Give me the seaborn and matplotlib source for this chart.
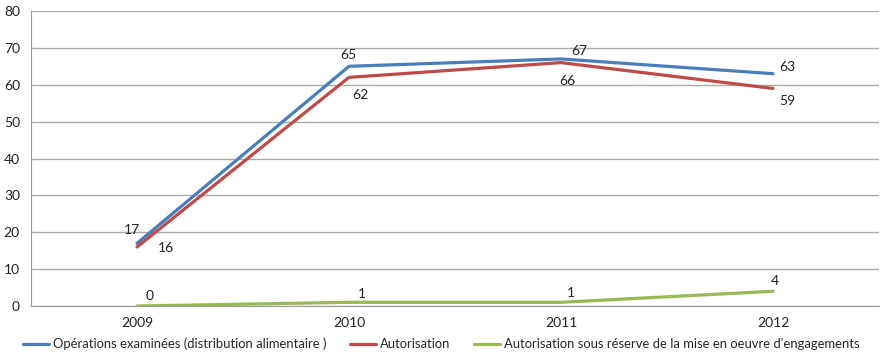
import pandas as pd
import matplotlib.pyplot as plt
import seaborn as sns

# data
years = ['2009', '2010', '2011', '2012']
operations = [17, 65, 67, 63]
autorisation = [16, 62, 66, 59]
sous_reserve = [0, 1, 1, 4]
series_names = ['Opérations examinées (distribution alimentaire )',
                'Autorisation',
                'Autorisation sous réserve de la mise en oeuvre d\'engagements']

df = pd.DataFrame({'annee': years * 3,
                   'valeur': operations + autorisation + sous_reserve,
                   'serie': [series_names[0]] * 4 + [series_names[1]] * 4 + [series_names[2]] * 4})

sns.set_style('white')
plt.rcParams['font.family'] = ['Lato', 'DejaVu Sans']

fig = plt.figure(figsize=(8.8, 3.56), dpi=100)
ax = fig.add_axes([31 / 880, 1 - 306 / 356, 848 / 880, 295 / 356])

colors = ['#4A7EBB', '#BE4B48', '#98B954']
sns.lineplot(data=df, x='annee', y='valeur', hue='serie', palette=colors,
             linewidth=2.3, ax=ax, legend=True)

ax.set_xlim(-0.5, 3.5)
ax.set_ylim(0, 80)
ax.set_yticks(range(0, 81, 10))
ax.set_xlabel('')
ax.set_ylabel('')
ax.tick_params(axis='both', length=0, labelsize=10, colors='#222222')
ax.tick_params(axis='y', pad=8)
ax.tick_params(axis='x', pad=8)
ax.grid(axis='y', color='#AAAAAA', linewidth=1)
ax.set_axisbelow(True)
for s in ['top', 'right']:
    ax.spines[s].set_visible(False)
ax.spines['left'].set_color('#999999')
ax.spines['bottom'].set_color('#999999')

# data labels, offsets in pixels
offsets = {0: [(-5, 13), (-1, 11), (18, 8), (14, 7)],
           1: [(29, -1), (11, -18), (6, -18), (14, -13)],
           2: [(13, 10), (13, 8), (10, 9), (2, 10)]}
values = [operations, autorisation, sous_reserve]
for k, vals in enumerate(values):
    for i, v in enumerate(vals):
        dx, dy = offsets[k][i]
        ax.annotate(str(v), (i, v), xytext=(dx, dy), textcoords='offset pixels',
                    ha='center', va='center', fontsize=10, color='#222222')

handles, labels = ax.get_legend_handles_labels()
ax.legend_.remove()
fig.legend(handles, labels, loc='center left', bbox_to_anchor=(0.02, 1 - 344 / 356),
           ncol=3, frameon=False, fontsize=9.4, handlelength=2.0,
           handletextpad=0.3, columnspacing=1.8, borderaxespad=0)

plt.savefig('out.png', dpi=100)
